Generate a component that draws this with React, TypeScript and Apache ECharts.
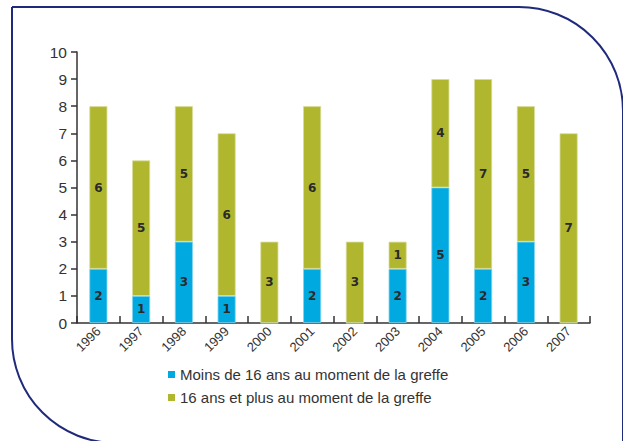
import React, { useEffect, useRef } from "react";
import * as echarts from "echarts";

const years = ["1996", "1997", "1998", "1999", "2000", "2001", "2002", "2003", "2004", "2005", "2006", "2007"];
const under16 = [2, 1, 3, 1, 0, 2, 0, 2, 5, 2, 3, 0];
const over16 = [6, 5, 5, 6, 3, 6, 3, 1, 4, 7, 5, 7];
const seriesNames = ["Moins de 16 ans au moment de la greffe", "16 ans et plus au moment de la greffe"];
const yTicks = [0, 1, 2, 3, 4, 5, 6, 7, 8, 9, 10];

const FONT = "'Liberation Sans', Arial, sans-serif";

export default function App() {
  const ref = useRef<HTMLDivElement>(null);
  useEffect(() => {
    if (!ref.current) return;
    const chart = echarts.init(ref.current, null, { renderer: "svg" });
    const label = {
      show: true,
      position: "inside",
      color: "#2a2a2a",
      fontWeight: "bold",
      fontSize: 12,
      fontFamily: "'DejaVu Sans', Verdana, sans-serif",
      formatter: (p: any) => (p.value === 0 ? "" : String(p.value)),
    };
    chart.setOption({
      animation: false,
      textStyle: { fontFamily: FONT },
      graphic: [
        {
          type: "rect",
          shape: { x: 12, y: 7, width: 611, height: 436, r: [0, 104, 0, 104] },
          style: { fill: "none", stroke: "#1f2a7c", lineWidth: 2 },
          silent: true,
          z: 10,
        },
      ],
      legend: {
        orient: "vertical",
        left: 163,
        top: 362,
        itemWidth: 7,
        itemHeight: 7,
        itemGap: 8,
        icon: "rect",
        itemStyle: { borderWidth: 0 },
        textStyle: { fontSize: 15, color: "#333", fontFamily: FONT },
        data: seriesNames,
      },
      grid: { left: 77, right: 33, top: 52, bottom: 118, containLabel: false },
      xAxis: {
        type: "category",
        data: years,
        axisLine: { show: true, lineStyle: { color: "#333", width: 1.5 } },
        axisTick: { show: true, inside: true, length: 7, alignWithLabel: false, lineStyle: { color: "#333", width: 1.5 } },
        axisLabel: { rotate: 45, fontSize: 13, color: "#333", margin: 6, fontFamily: FONT, interval: 0 },
      },
      yAxis: {
        type: "value",
        min: yTicks[0],
        max: yTicks[yTicks.length - 1],
        interval: 1,
        splitLine: { show: false },
        axisLine: { show: true, lineStyle: { color: "#333", width: 1.5 } },
        axisTick: { show: true, length: 6, lineStyle: { color: "#333", width: 1.5 } },
        axisLabel: { fontSize: 15.5, color: "#333", margin: 10, fontFamily: FONT },
      },
      series: [
        {
          name: seriesNames[0],
          type: "bar",
          stack: "total",
          data: under16,
          barWidth: 18,
          itemStyle: { color: "#00a9e0", borderColor: "#7fd3ef", borderWidth: 0.8 },
          label,
        },
        {
          name: seriesNames[1],
          type: "bar",
          stack: "total",
          data: over16,
          barWidth: 18,
          itemStyle: { color: "#b0b72e", borderColor: "#d8dc9a", borderWidth: 0.8 },
          label,
        },
      ],
    });
    return () => chart.dispose();
  }, []);
  return <div ref={ref} style={{ position: "absolute", left: 0, top: 0, width: 623, height: 441 }} />;
}
